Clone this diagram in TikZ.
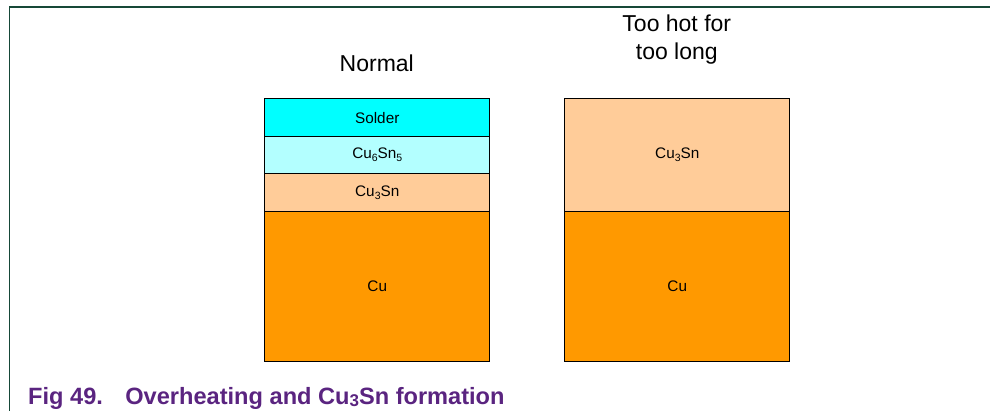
\documentclass[tikz,border=0pt]{standalone}
\usepackage{fontspec}
\setmainfont{Liberation Sans}
\definecolor{framec}{RGB}{22,72,56}
\definecolor{capc}{RGB}{90,36,128}
\definecolor{solderc}{RGB}{0,255,255}
\definecolor{cusixc}{RGB}{179,255,255}
\definecolor{cuthreec}{RGB}{255,204,153}
\definecolor{cuc}{RGB}{255,153,0}
\newcommand{\sbs}[1]{\raisebox{-0.35ex}{\fontsize{10.5}{12}\selectfont #1}}
\begin{document}
\begin{tikzpicture}[x=1pt,y=-1pt,
  layer/.style={draw=black,line width=0.9pt,anchor=north west,minimum width=225pt,inner sep=0pt,font=\fontsize{15.3}{18}\selectfont},
  title/.style={align=center,font=\fontsize{23}{27.4}\selectfont},
  caption/.style={anchor=base west,inner sep=0pt,text=capc,font=\fontsize{23.6}{28}\selectfont\bfseries}]
\useasboundingbox (0,0) rectangle (990,411);
\draw[framec,line width=1.4pt] (990,7.2) -- (9.5,7.2) -- (9.5,411);
% Normal
\node[layer,fill=solderc,minimum height=37.7pt] (sol) at (264.3,98.3) {Solder};
\node[layer,fill=cusixc,minimum height=37.3pt] (c65) at (264.3,136) {Cu\sbs{6}Sn\sbs{5}};
\node[layer,fill=cuthreec,minimum height=37.4pt] (c3a) at (264.3,173.3) {Cu\sbs{3}Sn};
\node[layer,fill=cuc,minimum height=150pt] (cua) at (264.3,210.7) {Cu};
% Too hot
\node[layer,fill=cuthreec,minimum height=112.4pt] (c3b) at (564.3,98.3) {Cu\sbs{3}Sn};
\node[layer,fill=cuc,minimum height=150pt] (cub) at (564.3,210.7) {Cu};
\node[title,anchor=base] (tn) at (376.8,71.7) {Normal};
\node[title,anchor=base] (th) at (676.8,59.3) {Too hot for\\too long};
\node[caption] (cap) at (28,404.3) {Fig 49.\hspace{0.95em}Overheating and Cu\raisebox{-0.15ex}{\fontsize{17}{20}\selectfont 3}Sn formation};
\end{tikzpicture}
\end{document}
